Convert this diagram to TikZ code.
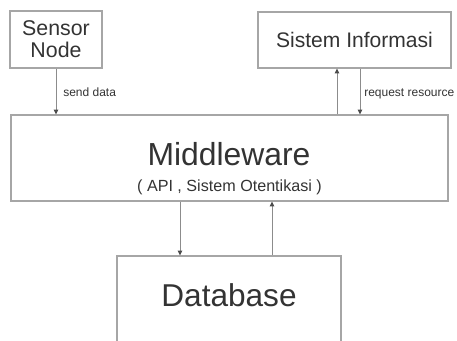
\documentclass[tikz,border=0pt]{standalone}
\usepackage{fontspec}
\setmainfont{Liberation Sans}
\usepackage{tikz}
\usetikzlibrary{arrows.meta}

\definecolor{boxline}{HTML}{A6A6A6}
\definecolor{arrowline}{HTML}{8C8C8C}
\definecolor{inktext}{HTML}{333333}

\tikzset{
  box/.style={draw=boxline, line width=0.8pt, inner sep=0pt, text=inktext, align=center},
  flow/.style={draw=arrowline, line width=0.7pt, -{Triangle[length=3.6pt,width=3.4pt,color=black!70]}},
  tag/.style={text=inktext, inner sep=0pt, anchor=base west, font=\fontsize{9}{10}\selectfont}
}

\begin{document}
\begin{tikzpicture}[x=0.75pt,y=0.75pt,yscale=-1]
\useasboundingbox (0,0) rectangle (457,341);
\clip (0,0) rectangle (457,341);

%Shape: Boxes
\node [box, minimum width=69pt, minimum height=42.75pt, font=\fontsize{16}{16.5}\selectfont] (sensor) at (56,39.5) {Sensor\\Node};
\node [box, minimum width=144.75pt, minimum height=42pt, font=\fontsize{15.8}{17}\selectfont] (info) at (354.5,40) {Sistem Informasi};
\node [box, minimum width=327.75pt, minimum height=64.5pt] (mw) at (229.5,158) {};
\node [box, minimum width=168pt, text height=38.25pt, text depth=70pt, anchor=base, font=\fontsize{23.7}{26}\selectfont] (db) at (229,307) {Database};

% Text Node
\node [text=inktext, inner sep=0pt, anchor=base, font=\fontsize{23.9}{26}\selectfont] (mwname) at (229,166) {Middleware};
% Text Node
\node [text=inktext, inner sep=0pt, anchor=base, font=\fontsize{12.1}{14}\selectfont] (mwsub) at (229.5,192) {( API , Sistem Otentikasi )};

%Straight Lines
\coordinate (upx) at (337,0);
\coordinate (downx) at (360,0);
\coordinate (dbdown) at (180,0);
\coordinate (dbup) at (272,0);

\draw [flow] (sensor.south) -- (sensor.south |- mw.north);
\draw [flow] (mw.north -| upx) -- (info.south -| upx);
\draw [flow] (info.south -| downx) -- (mw.north -| downx);
\draw [flow] (mw.south -| dbdown) -- (db.north -| dbdown);
\draw [flow] (db.north -| dbup) -- (mw.south -| dbup);

% Text Node
\node [tag] (senddata) at (63,96.5) {send data};
% Text Node
\node [tag] (request) at (364,96.5) {request resource};

\end{tikzpicture}
\end{document}
